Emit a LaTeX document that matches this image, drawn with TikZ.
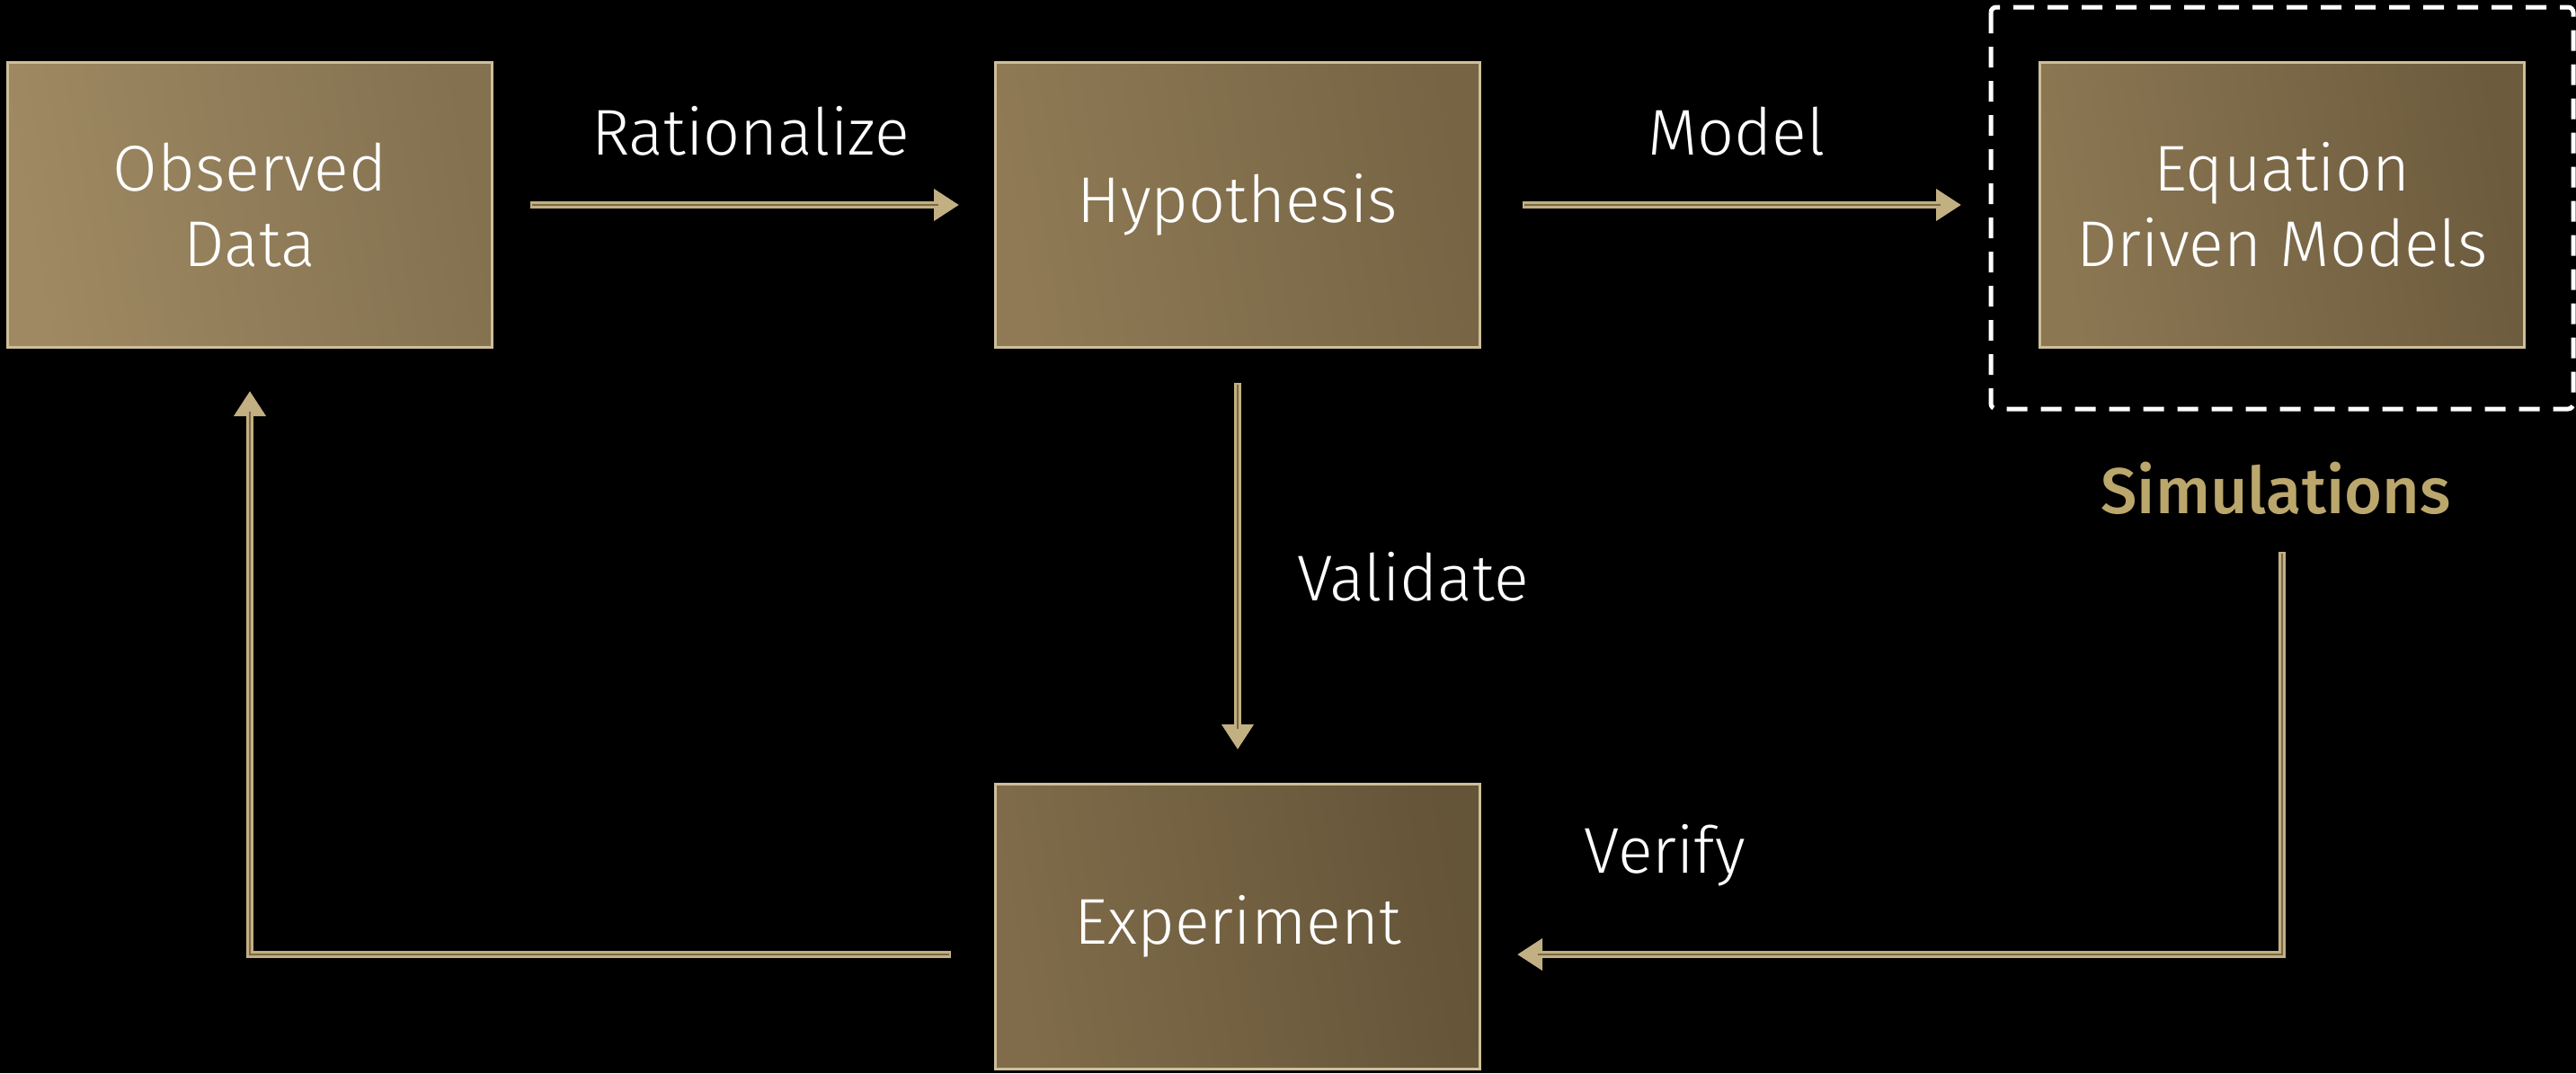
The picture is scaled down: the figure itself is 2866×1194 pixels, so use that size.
\documentclass[tikz,border=0pt]{standalone}
\usepackage{fontspec}
\setmainfont{Fira Sans}[UprightFont=* Light, BoldFont=* Medium]
\usetikzlibrary{arrows.meta}

\definecolor{boxedge}{HTML}{CDBF98}
\definecolor{goldline}{HTML}{C2B083}
\definecolor{goldstripe}{HTML}{7A6944}
\definecolor{simgold}{HTML}{BBA76C}
% fill gradients of the four stage boxes
\definecolor{obsA}{RGB}{158,137,98}
\definecolor{obsB}{RGB}{132,113,80}
\definecolor{hypA}{RGB}{143,122,85}
\definecolor{hypB}{RGB}{118,100,68}
\definecolor{eqmA}{RGB}{140,119,83}
\definecolor{eqmB}{RGB}{108,91,61}
\definecolor{expA}{RGB}{128,108,74}
\definecolor{expB}{RGB}{100,84,56}

\tikzset{
  stagebox/.style={draw=boxedge, line width=3pt,
    left color=#1A, right color=#1B, shading angle=100,
    text=white, minimum width=539pt, minimum height=317pt, inner sep=0pt, align=center,
    font=\fontsize{72}{84}\selectfont},
  flowlabel/.style={text=white, inner sep=0pt, font=\fontsize{72}{84}\selectfont},
  flow/.style={draw=goldline, line width=8pt, -{Triangle[length=28pt,width=34pt]}},
  stripe/.style={draw=goldstripe, line width=2.5pt},
}

\begin{document}
\begin{tikzpicture}[x=1pt, y=-1pt]
  \useasboundingbox (0,0) rectangle (2866,1194);
  \fill[black] (0,0) rectangle (2866,1194);

  % stages of the cycle
  \node[stagebox=obs] (obs) at (278,228)  {Observed\\Data};
  \node[stagebox=hyp] (hyp) at (1377,228) {Hypothesis};
  \node[stagebox=eqm] (eqm) at (2539,228) {Equation\\Driven Models};
  \node[stagebox=exp] (exp) at (1377,1031) {Experiment};

  % dashed frame around the simulation models
  \draw[white, line width=5pt, dash pattern=on 23pt off 15pt, rounded corners=6pt]
    ([shift={(-53,-60)}]eqm.north west) rectangle ([shift={(53,67)}]eqm.south east);

  % connector end points
  \coordinate (vtop)  at ([shift={(0,226)}]eqm.south);
  \coordinate (vend)  at ([shift={(40,31)}]exp.east);
  \coordinate (lbeg)  at ([shift={(-48,31)}]exp.west);
  \coordinate (lend)  at ([shift={(0,47)}]obs.south);

  % connectors
  \draw[flow, shorten <=41pt, shorten >=39pt] (obs) -- (hyp);
  \draw[stripe, shorten <=43pt, shorten >=62pt] (obs) -- (hyp);

  \draw[flow, shorten <=46pt, shorten >=86pt] (hyp) -- (eqm);
  \draw[stripe, shorten <=48pt, shorten >=109pt] (hyp) -- (eqm);

  \draw[flow, shorten <=38pt, shorten >=37pt] (hyp) -- (exp);
  \draw[stripe, shorten <=40pt, shorten >=60pt] (hyp) -- (exp);

  \draw[flow] (vtop) |- (vend);
  \draw[stripe, shorten <=2pt, shorten >=23pt] (vtop) |- (vend);

  \draw[flow] (lbeg) -| (lend);
  \draw[stripe, shorten <=2pt, shorten >=23pt] (lbeg) -| (lend);

  % labels
  \node[flowlabel] (lrat) at (835,146) {Rationalize};
  \node[flowlabel] (lmod) at (1932,146) {Model};
  \node[flowlabel] (lval) at (1572,642) {Validate};
  \node[flowlabel] (lver) at (1852,952) {Verify};
  \node[flowlabel, text=simgold, font=\fontsize{72}{84}\selectfont\bfseries] (lsim) at (2532,543) {Simulations};
\end{tikzpicture}
\end{document}
